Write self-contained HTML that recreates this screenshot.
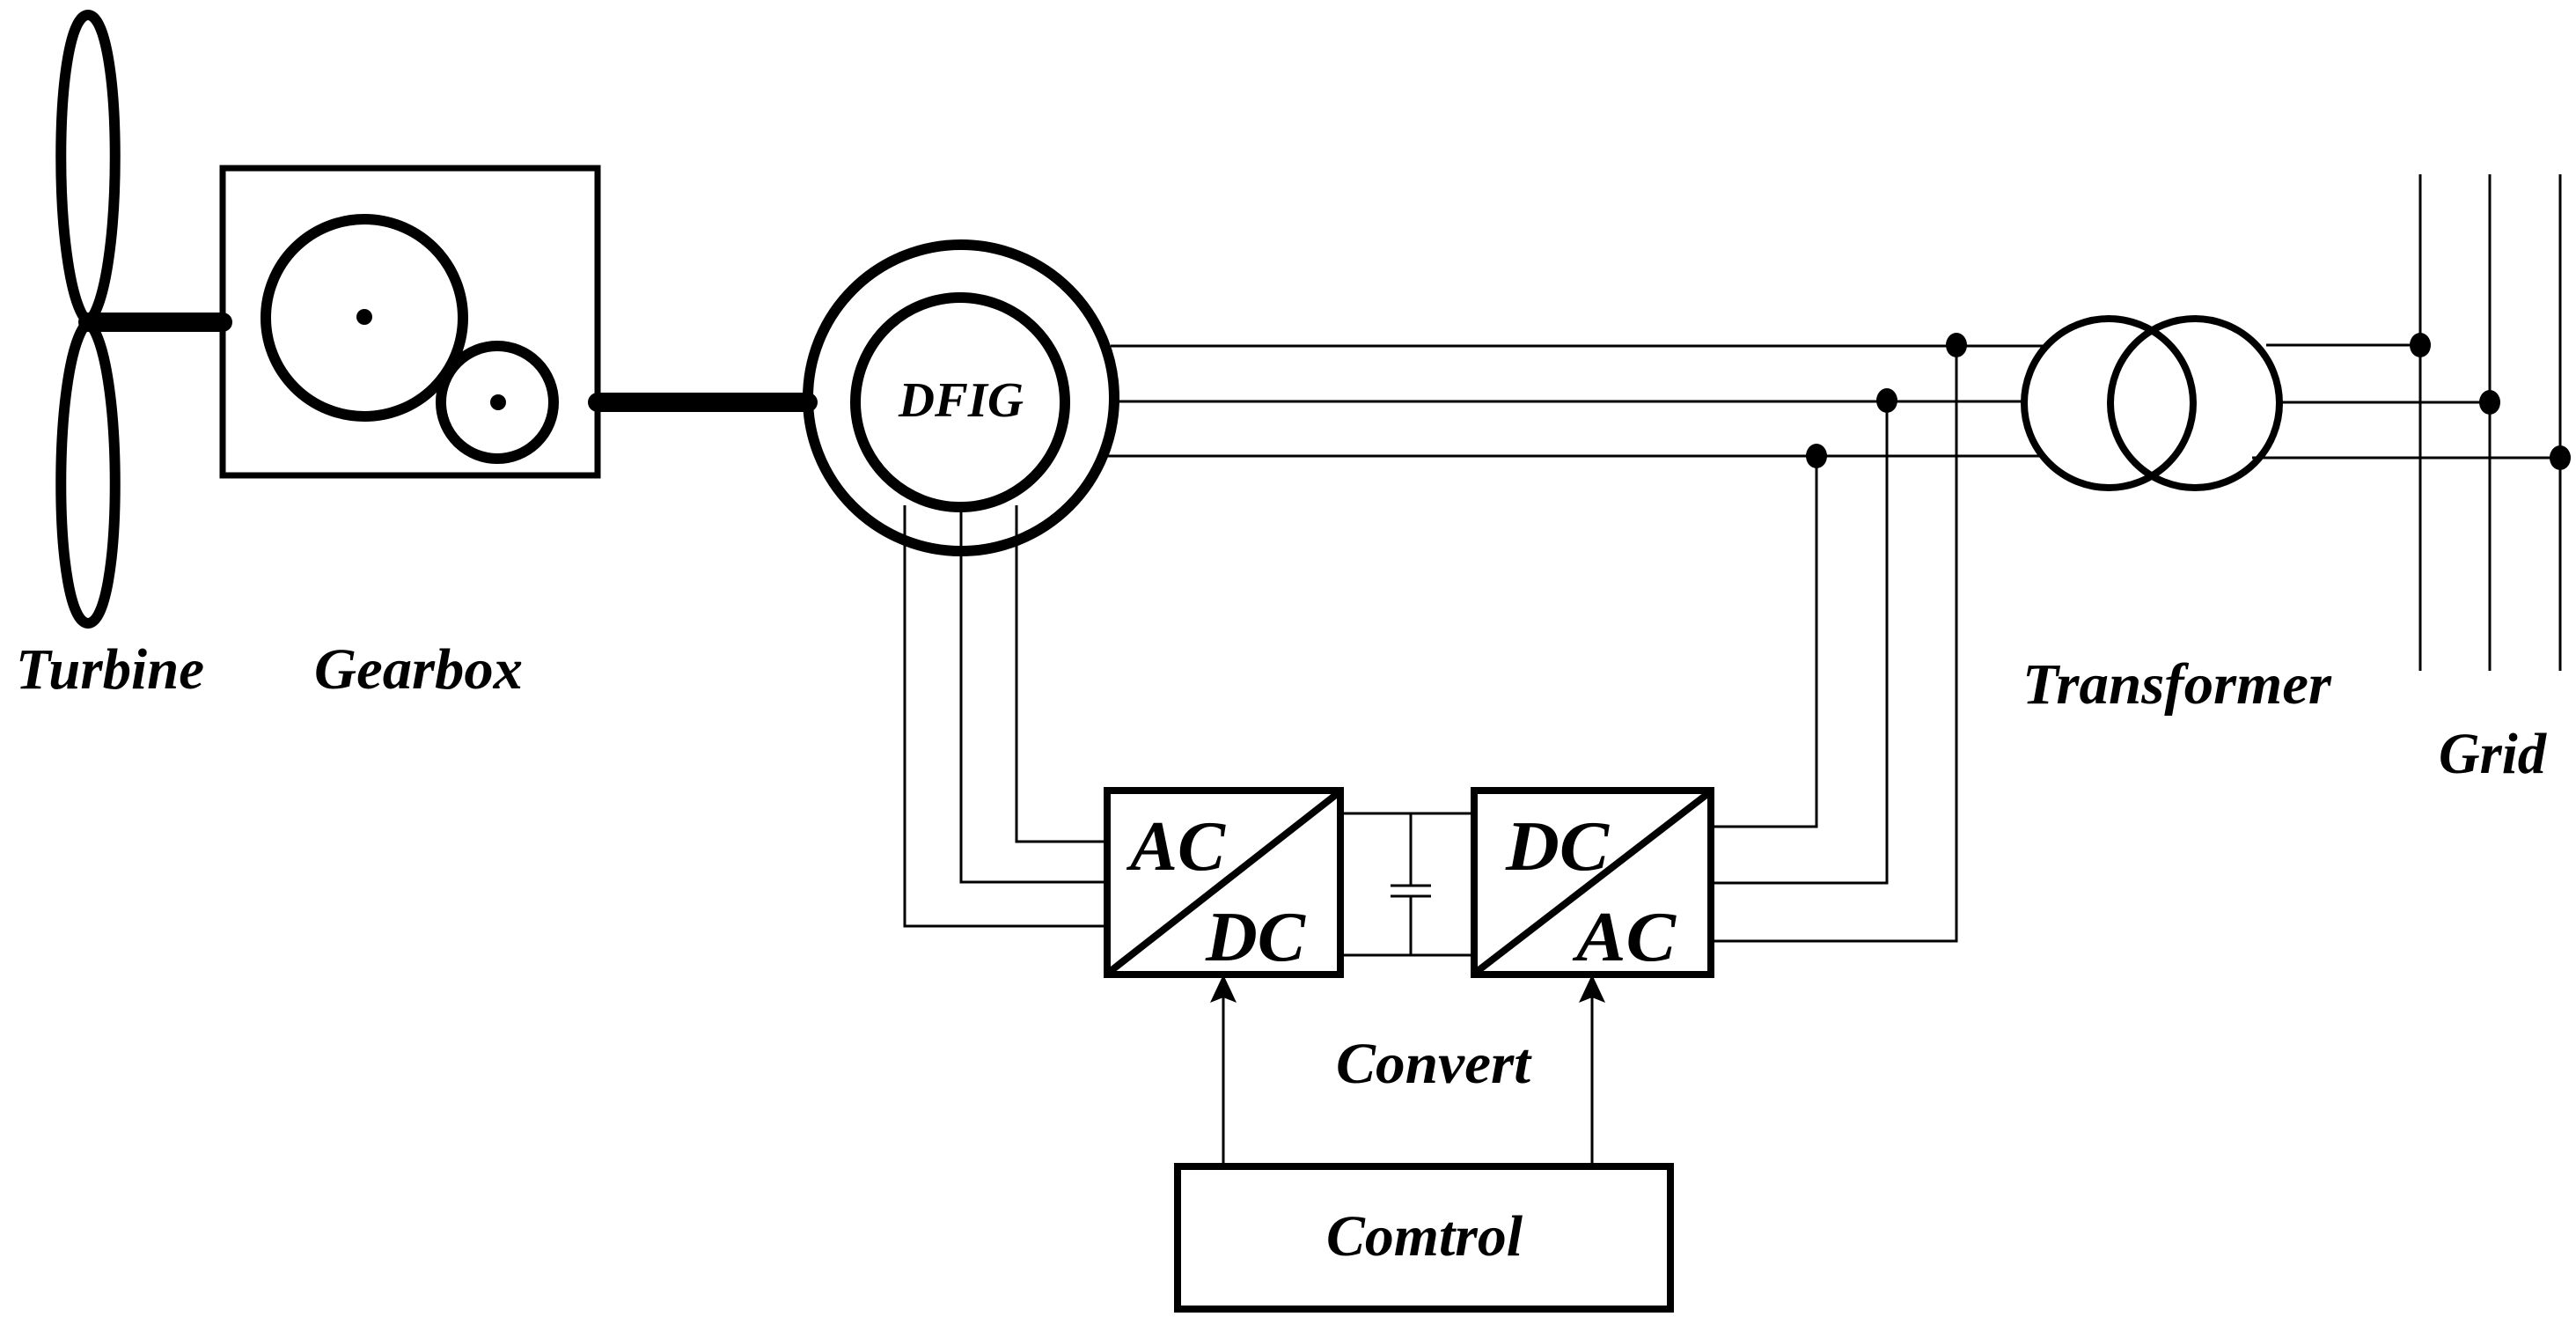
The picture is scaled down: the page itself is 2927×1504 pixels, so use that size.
<!DOCTYPE html>
<html><head><meta charset="utf-8"><style>html,body{margin:0;padding:0;background:#fff}svg{display:block}</style></head>
<body>
<svg width="2927" height="1504" viewBox="0 0 2927 1504" xmlns="http://www.w3.org/2000/svg">
<rect width="2927" height="1504" fill="#fff"/>
<g fill="none" stroke="#000">
<path d="M100,366 C59,330 59,17 100,17 C141,17 141,330 100,366 Z" stroke-width="12"/>
<path d="M100,366 C59,400 59,708 100,708 C141,708 141,400 100,366 Z" stroke-width="12"/>
<line x1="100" y1="366" x2="253" y2="366" stroke-width="22" stroke-linecap="round"/>
<line x1="679" y1="457" x2="918" y2="457" stroke-width="22" stroke-linecap="round"/>
<rect x="253" y="191" width="426" height="349" stroke-width="7"/>
<circle cx="414" cy="361" r="112" stroke-width="12"/>
<circle cx="565" cy="457" r="64" stroke-width="12"/>
<circle cx="1092" cy="452" r="174" stroke-width="12"/>
<circle cx="1091" cy="457" r="119" stroke-width="12"/>
<g stroke-width="3">
<line x1="1262" y1="393" x2="2321" y2="393"/>
<line x1="1266" y1="456" x2="2297" y2="456"/>
<line x1="1256" y1="518" x2="2319" y2="518"/>
<polyline points="1155,574 1155,956 1258,956"/>
<polyline points="1092,576 1092,1002 1258,1002"/>
<polyline points="1028,574 1028,1052 1258,1052"/>
<polyline points="1944,939 2064,939 2064,518"/>
<polyline points="1944,1003 2144,1003 2144,456"/>
<polyline points="1944,1069 2223,1069 2223,393"/>
<line x1="2575" y1="392" x2="2750" y2="392"/>
<line x1="2593" y1="457" x2="2829" y2="457"/>
<line x1="2559" y1="520" x2="2909" y2="520"/>
<line x1="2750" y1="198" x2="2750" y2="762"/>
<line x1="2829" y1="198" x2="2829" y2="762"/>
<line x1="2909" y1="198" x2="2909" y2="762"/>
<line x1="1523" y1="924" x2="1675" y2="924"/>
<line x1="1523" y1="1085" x2="1675" y2="1085"/>
<line x1="1603" y1="924" x2="1603" y2="1006"/>
<line x1="1603" y1="1018" x2="1603" y2="1085"/>
<line x1="1580" y1="1006" x2="1626" y2="1006"/>
<line x1="1580" y1="1018" x2="1626" y2="1018"/>
<line x1="1390" y1="1325" x2="1390" y2="1130"/>
<line x1="1809" y1="1325" x2="1809" y2="1130"/>
</g>
<circle cx="2396" cy="458" r="96" stroke-width="8"/>
<circle cx="2494" cy="458" r="96" stroke-width="8"/>
<rect x="1258" y="898" width="265" height="209" stroke-width="8"/>
<line x1="1262" y1="1103" x2="1519" y2="902" stroke-width="8"/>
<rect x="1675" y="898" width="269" height="209" stroke-width="8"/>
<line x1="1679" y1="1103" x2="1940" y2="902" stroke-width="8"/>
<rect x="1338" y="1325" width="560" height="162" stroke-width="8"/>
</g>
<g fill="#000">
<circle cx="414" cy="360" r="9"/>
<circle cx="566" cy="457" r="9"/>
<ellipse cx="2223" cy="392" rx="12" ry="14"/>
<ellipse cx="2144" cy="455" rx="12" ry="14"/>
<ellipse cx="2064" cy="518" rx="12" ry="14"/>
<ellipse cx="2750" cy="392" rx="12" ry="14"/>
<ellipse cx="2829" cy="457" rx="12" ry="14"/>
<ellipse cx="2909" cy="520" rx="12" ry="14"/>
<polygon points="1390,1107 1375,1139 1390,1133 1405,1139"/>
<polygon points="1809,1107 1794,1139 1809,1133 1824,1139"/>
</g>
<g font-family="'Liberation Serif', serif" font-weight="bold" font-style="italic" fill="#000">
<text x="18" y="782" font-size="66" textLength="214" lengthAdjust="spacingAndGlyphs">Turbine</text>
<text x="357" y="782" font-size="66" textLength="237" lengthAdjust="spacingAndGlyphs">Gearbox</text>
<text x="1021" y="473" font-size="56" textLength="142" lengthAdjust="spacingAndGlyphs">DFIG</text>
<text x="2298" y="799" font-size="66" textLength="351" lengthAdjust="spacingAndGlyphs">Transformer</text>
<text x="2771" y="878" font-size="66" textLength="122" lengthAdjust="spacingAndGlyphs">Grid</text>
<text x="1284" y="988" font-size="80" textLength="108" lengthAdjust="spacingAndGlyphs">AC</text>
<text x="1370" y="1091" font-size="80" textLength="113" lengthAdjust="spacingAndGlyphs">DC</text>
<text x="1711" y="988" font-size="80" textLength="117" lengthAdjust="spacingAndGlyphs">DC</text>
<text x="1791" y="1091" font-size="80" textLength="113" lengthAdjust="spacingAndGlyphs">AC</text>
<text x="1518" y="1230" font-size="66" textLength="221" lengthAdjust="spacingAndGlyphs">Convert</text>
<text x="1507" y="1426" font-size="66" textLength="223" lengthAdjust="spacingAndGlyphs">Comtrol</text>
</g>
</svg>
</body></html>
